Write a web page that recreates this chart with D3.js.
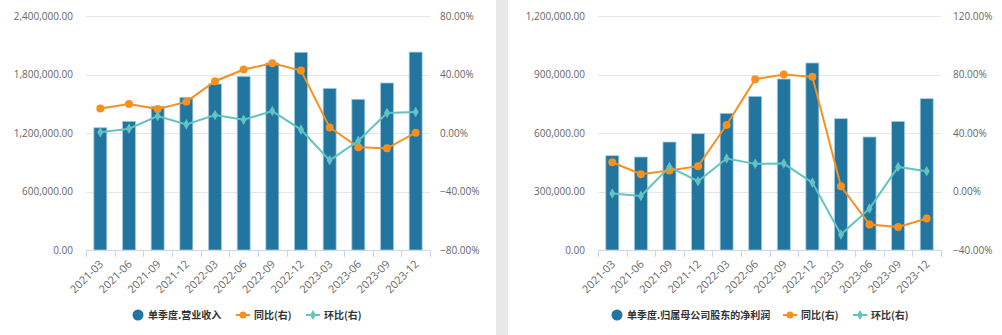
<!DOCTYPE html>
<html><head><meta charset="utf-8">
<script src="https://cdn.jsdelivr.net/npm/d3@7/dist/d3.min.js"></script>
<style>
body{margin:0;background:#fff;}
svg{display:block;font-family:"Open Sans",sans-serif;}
</style></head>
<body>
<svg id="c" width="1002" height="335"></svg>
<script>
const categories = ["2021-03","2021-06","2021-09","2021-12","2022-03","2022-06","2022-09","2022-12","2023-03","2023-06","2023-09","2023-12"];

// Left chart: 单季度.营业收入
const revenue = [1254000,1320000,1474000,1566000,1703000,1781000,1918000,2028000,1658000,1546000,1713000,2030000];
const revenueYoY = [16.8,19.8,16.4,21.3,35.4,43.4,47.7,42.7,3.8,-9.8,-10.5,0.2];
const revenueQoQ = [0.5,2.9,11.6,5.9,12.3,9.1,15.0,2.3,-18.7,-5.3,13.6,14.3];
const leftTicksL = [0,600000,1200000,1800000,2400000];
const leftTicksR = [-80,-40,0,40,80];

// Right chart: 单季度.归属母公司股东的净利润
const profit = [483600,476900,553800,596600,700900,788000,876900,959000,673500,579500,659800,776100];
const profitYoY = [20.0,11.8,14.4,17.3,45.5,76.8,80.0,78.4,3.6,-22.6,-24.2,-18.5];
const profitQoQ = [-1.4,-3.0,16.8,7.0,22.6,18.9,19.1,6.1,-29.4,-11.6,16.8,13.9];
const rightTicksL = [0,300000,600000,900000,1200000];
const rightTicksR = [-40,0,40,80,120];

const barName1 = "单季度.营业收入";
const barName2 = "单季度.归属母公司股东的净利润";
const yoyName = "同比(右)";
const qoqName = "环比(右)";

const BAR = "#21759f", ORANGE = "#f7901e", TEAL = "#62c3c3";
const svg = d3.select("#c");

// gray separator
svg.append("rect").attr("x",496).attr("y",0).attr("width",12).attr("height",335).attr("fill","#e8e8e8");

const fmtL = d3.format(",.2f");
const fmtR = d => d3.format(".2f")(d) + "%";

function drawChart(opt){
  const g = svg.append("g");
  const x = d3.scaleBand().domain(categories).range([opt.x0, opt.x1]);
  const yL = d3.scaleLinear().domain([opt.ticksL[0], opt.ticksL[opt.ticksL.length-1]]).range([250,16]);
  const yR = d3.scaleLinear().domain([opt.ticksR[0], opt.ticksR[opt.ticksR.length-1]]).range([250,16]);

  // gridlines
  g.selectAll(".grid").data(opt.ticksL.slice(1)).join("line")
    .attr("x1",opt.x0).attr("x2",opt.x1)
    .attr("y1",d=>Math.round(yL(d))+0.5).attr("y2",d=>Math.round(yL(d))+0.5)
    .attr("stroke","#e6e6e6").attr("stroke-width",1);

  // left axis labels
  const la = g.append("g").attr("transform",`translate(${opt.x0},0)`)
    .call(d3.axisLeft(yL).tickValues(opt.ticksL).tickFormat(fmtL).tickSize(0).tickPadding(13));
  la.select(".domain").remove();
  la.selectAll("text").attr("fill","#666").attr("font-size","10px").attr("font-family","Open Sans");

  // right axis labels
  const ra = g.append("g").attr("transform",`translate(${opt.x1},0)`)
    .call(d3.axisRight(yR).tickValues(opt.ticksR).tickFormat(fmtR).tickSize(0).tickPadding(opt.rPad));
  ra.select(".domain").remove();
  ra.selectAll("text").attr("fill","#666").attr("font-size","10px").attr("font-family","Open Sans");

  // bars
  const bw = 13;
  g.selectAll(".bar").data(opt.bars).join("rect")
    .attr("x",(d,i)=>x(categories[i]) + x.bandwidth()/2 - bw/2)
    .attr("y",d=>yL(d))
    .attr("width",bw)
    .attr("height",d=>yL(0)-yL(d))
    .attr("fill",BAR).attr("stroke","#a9cde0").attr("stroke-width",0.8);

  // x axis
  const xa = g.append("g").attr("transform","translate(0,250)")
    .call(d3.axisBottom(x).tickSize(0).tickPadding(0));
  xa.select(".domain").attr("stroke","#ccd6eb").attr("d",`M${opt.x0},0.5H${opt.x1}`);
  xa.selectAll("text").attr("fill","#666").attr("font-size","11px").attr("font-family","Open Sans")
    .attr("text-anchor","end").attr("x",0).attr("y",0).attr("dy","0.35em")
    .attr("transform","translate(1,12) rotate(-45)");
  // boundary ticks
  const bounds = categories.map(c=>x(c)).concat([opt.x1]);
  g.selectAll(".xt").data(bounds).join("line")
    .attr("x1",d=>Math.round(d)+0.5).attr("x2",d=>Math.round(d)+0.5)
    .attr("y1",250).attr("y2",257).attr("stroke","#ccd6eb");

  const cx = i => x(categories[i]) + x.bandwidth()/2;
  // lines
  const line = d3.line().x((d,i)=>cx(i)).y(d=>yR(d));
  g.append("path").datum(opt.yoy).attr("d",line).attr("fill","none").attr("stroke",ORANGE).attr("stroke-width",2);
  g.append("path").datum(opt.qoq).attr("d",line).attr("fill","none").attr("stroke",TEAL).attr("stroke-width",2);
  g.selectAll(".yo").data(opt.yoy).join("circle")
    .attr("cx",(d,i)=>cx(i)).attr("cy",d=>yR(d)).attr("r",4).attr("fill",ORANGE);
  g.selectAll(".qo").data(opt.qoq).join("path")
    .attr("transform",(d,i)=>`translate(${cx(i)},${yR(d)})`)
    .attr("d",d3.symbol(d3.symbolDiamond,32)).attr("fill",TEAL);

  // legend
  const ly = 315;
  const lg = g.append("g").attr("font-size","10px").attr("font-weight","bold").attr("fill","#333")
    .attr("font-family","'Noto Sans CJK SC',sans-serif");
  lg.append("circle").attr("cx",opt.leg[0]).attr("cy",ly).attr("r",5.5).attr("fill",BAR);
  lg.append("text").attr("x",opt.leg[0]+10).attr("y",ly).attr("dy","0.35em").text(opt.barName);
  lg.append("line").attr("x1",opt.leg[1]).attr("x2",opt.leg[1]+14).attr("y1",ly).attr("y2",ly).attr("stroke",ORANGE).attr("stroke-width",2);
  lg.append("circle").attr("cx",opt.leg[1]+7).attr("cy",ly).attr("r",3.5).attr("fill",ORANGE);
  lg.append("text").attr("x",opt.leg[1]+18).attr("y",ly).attr("dy","0.35em").text(yoyName);
  lg.append("line").attr("x1",opt.leg[2]).attr("x2",opt.leg[2]+14).attr("y1",ly).attr("y2",ly).attr("stroke",TEAL).attr("stroke-width",2);
  lg.append("path").attr("transform",`translate(${opt.leg[2]+7},${ly})`).attr("d",d3.symbol(d3.symbolDiamond,28)).attr("fill",TEAL);
  lg.append("text").attr("x",opt.leg[2]+18).attr("y",ly).attr("dy","0.35em").text(qoqName);
}

drawChart({x0:86,x1:430,ticksL:leftTicksL,ticksR:leftTicksR,rPad:10,bars:revenue,yoy:revenueYoY,qoq:revenueQoQ,barName:barName1,leg:[138,236,306]});
drawChart({x0:598,x1:941,ticksL:rightTicksL,ticksR:rightTicksR,rPad:12,bars:profit,yoy:profitYoY,qoq:profitQoQ,barName:barName2,leg:[617,783,853]});
</script>
</body></html>
